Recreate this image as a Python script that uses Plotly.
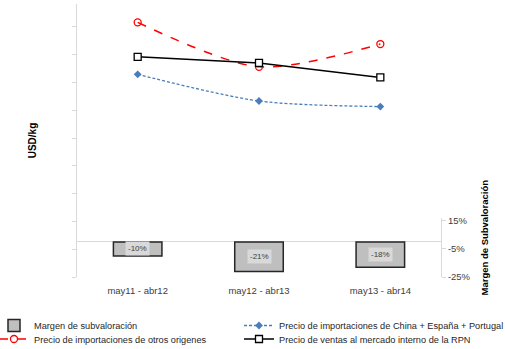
import plotly.graph_objects as go

categories = ["may11 - abr12", "may12 - abr13", "may13 - abr14"]
margen = [-0.10, -0.21, -0.18]
precio_china_esp_por = [7.29, 6.33, 6.13]
precio_otros = [9.16, 7.56, 8.38]
precio_rpn = [7.92, 7.70, 7.18]
right_tickvals = [0.15, -0.05, -0.25]
right_ticktext = ["15%", "-5%", "-25%"]
left_tickvals = list(range(0, 10))

FONT = "Liberation Sans, Arial, sans-serif"
GRAY_AX = "#d9d9d9"
TXT = "#404040"

L, R, T, B = 77, 64, 4, 72
W, H = 505, 349
PW, PH = W - L - R, H - T - B


def px_x(p):
    return (p - L) / PW


def px_y(p):
    return (H - B - p) / PH


fig = go.Figure()

fig.add_trace(go.Bar(
    x=categories, y=margen, xaxis="x", yaxis="y2",
    name="Margen de subvaloración", width=0.4,
    marker=dict(color="#bfbfbf", line=dict(color="#262626", width=1.5)),
    legend="legend",
))
fig.add_trace(go.Scatter(
    x=categories, y=precio_otros, xaxis="x", yaxis="y",
    name="Precio de importaciones de otros origenes", mode="lines+markers",
    line=dict(color="#ff0000", width=1.5, dash="dash", shape="spline", smoothing=0.8),
    marker=dict(symbol="circle-open", size=7, color="#ff0000", line=dict(width=1.3)),
    legend="legend2",
))
fig.add_trace(go.Scatter(
    x=categories, y=precio_china_esp_por, xaxis="x", yaxis="y",
    name="Precio de importaciones de China + España + Portugal", mode="lines+markers",
    line=dict(color="#4a7ebb", width=1.3, dash="3px,2px", shape="spline", smoothing=0.8),
    marker=dict(symbol="diamond", size=6, color="#4a7ebb"),
    legend="legend3",
))
fig.add_trace(go.Scatter(
    x=categories, y=precio_rpn, xaxis="x", yaxis="y",
    name="Precio de ventas al mercado interno de la RPN", mode="lines+markers",
    line=dict(color="#000000", width=1.5),
    marker=dict(symbol="square", size=7, color="white", line=dict(color="#000000", width=1.3)),
    legend="legend4",
))

for c, v in zip(categories, margen):
    fig.add_annotation(
        x=c, y=v / 2, xref="x", yref="y2", text=f"{round(v * 100)}%",
        showarrow=False, bgcolor="#d9d9d9", borderpad=2,
        font=dict(family=FONT, size=8, color=TXT),
    )

fig.add_annotation(
    x=px_x(484), y=px_y(237.5), xref="paper", yref="paper",
    xanchor="center", yanchor="middle",
    text="<b>Margen de Subvaloración</b>", textangle=-90, showarrow=False,
    font=dict(family=FONT, size=9.5, color="#000000"),
)

leg_common = dict(xanchor="left", yanchor="middle",
                  bgcolor="rgba(0,0,0,0)", font=dict(family=FONT, size=9.2, color="#262626"),
                  itemwidth=30)

fig.update_layout(
    width=W, height=H,
    margin=dict(l=L, r=R, t=T, b=B, autoexpand=False),
    paper_bgcolor="white", plot_bgcolor="white",
    template="none",
    showlegend=True,
    font=dict(family=FONT, size=9, color=TXT),
    xaxis=dict(
        type="category", range=[-0.5, 2.5], showline=False, showgrid=False, zeroline=False,
        ticks="", tickfont=dict(size=9.5, color=TXT), ticklabelstandoff=6,
        anchor="y", automargin=False,
    ),
    yaxis=dict(
        domain=[0, 1], range=[0, 9.82], tickvals=left_tickvals, showticklabels=False,
        showline=True, linecolor=GRAY_AX, linewidth=1, ticks="outside", ticklen=4,
        tickcolor=GRAY_AX, showgrid=False, zeroline=False, automargin=False,
        title=dict(text="<b>USD/kg</b>", standoff=33, font=dict(size=10, color="#000000")),
    ),
    yaxis2=dict(
        domain=[0, 59 / PH], range=[-0.25, 0.171], anchor="x", side="right",
        tickvals=right_tickvals, ticktext=right_ticktext,
        showline=True, linecolor=GRAY_AX, linewidth=1, ticks="outside", ticklen=4,
        tickcolor=GRAY_AX, showgrid=False, zeroline=True, zerolinecolor=GRAY_AX,
        zerolinewidth=1, tickfont=dict(size=9.5, color=TXT), automargin=False,
    ),
    legend=dict(x=px_x(-6), y=px_y(325.5), **leg_common),
    legend2=dict(x=px_x(-6), y=px_y(339), **leg_common),
    legend3=dict(x=px_x(239), y=px_y(325.5), **leg_common),
    legend4=dict(x=px_x(239), y=px_y(339), **leg_common),
)

fig.write_html("out.html")
